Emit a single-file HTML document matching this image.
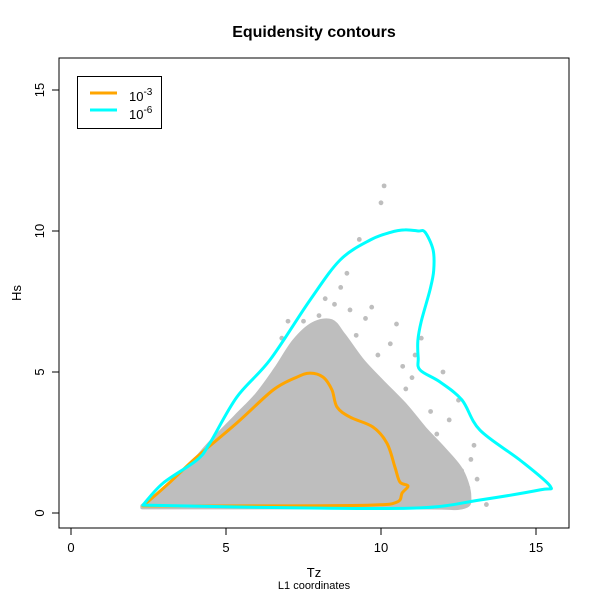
<!DOCTYPE html>
<html><head><meta charset="utf-8"><style>
body{margin:0;background:#fff}
text{font-family:"Liberation Sans",sans-serif}
</style></head><body>
<svg id="c" width="600" height="600" xmlns="http://www.w3.org/2000/svg">
<rect width="600" height="600" fill="#fff"/>
<text x="314" y="37" text-anchor="middle" font-size="16" font-weight="bold">Equidensity contours</text>
<text x="314" y="577" text-anchor="middle" font-size="13">Tz</text>
<text x="314" y="589" text-anchor="middle" font-size="11">L1 coordinates</text>
<text transform="translate(21,293) rotate(-90)" text-anchor="middle" font-size="13">Hs</text>
<g id="marks"></g>
<rect x="59" y="58" width="510" height="470" fill="none" stroke="#000"/>
<g id="axes"></g>
<g>
<rect x="77.5" y="76.5" width="84" height="52" fill="#fff" stroke="#000"/>
<line x1="90" y1="93" x2="117" y2="93" stroke="#FFA500" stroke-width="3"/>
<line x1="90" y1="110" x2="117" y2="110" stroke="#00FFFF" stroke-width="3"/>
<text x="129" y="101" font-size="13">10<tspan dy="-6" font-size="10">-3</tspan></text>
<text x="129" y="119" font-size="13">10<tspan dy="-6" font-size="10">-6</tspan></text>
</g>
</svg>
<script>
const xTicks=[0,5,10,15];
const yTicks=[0,5,10,15];
const cloudTz=[2.3,3.5,4.5,5.3,6.0,6.6,7.2,7.8,8.4,8.8,9.4,10.0,10.8,11.4,12.0,12.6,12.85,12.6,11.0,2.3];
const cloudHs=[0.25,1.3,2.5,3.4,4.2,5.1,6.1,6.7,6.8,6.3,5.4,4.7,3.8,3.0,2.3,1.5,0.6,0.2,0.2,0.2];
const outTz=[10.1,10.0,9.3,8.9,8.7,8.5,9.7,10.5,11.3,12.0,12.5,13.0,13.4,12.6,11.8,9.9,10.8,11.6,12.9,7.5,8.0,8.2,9.0,9.5,10.3,11.1,12.2,13.1,12.8,11.0,10.7,9.2,7.0,6.8];
const outHs=[11.6,11.0,9.7,8.5,8.0,7.4,7.3,6.7,6.2,5.0,4.0,2.4,0.3,1.5,2.8,5.6,4.4,3.6,1.9,6.8,7.0,7.6,7.2,6.9,6.0,5.6,3.3,1.2,0.9,4.8,5.2,6.3,6.8,6.2];
const orangeTz=[2.32,3.2,4.06,5.35,6.52,7.29,7.71,8.13,8.42,8.58,9.0,9.74,10.19,10.45,10.61,10.87,10.68,10.52,9.65,5.77,2.32];
const orangeHs=[0.25,1.1,1.99,3.19,4.36,4.82,4.96,4.82,4.36,3.76,3.40,3.05,2.48,1.63,1.10,0.96,0.71,0.39,0.28,0.25,0.25];
const cyanTz=[2.32,2.97,4.06,4.48,5.35,6.42,7.71,8.68,9.65,10.3,10.77,11.2,11.42,11.68,11.7,11.58,11.3,11.19,11.2,11.26,11.9,12.61,13.19,14.48,15.45,15.13,13.19,11.26,7.39,2.32];
const cyanHs=[0.28,1.06,1.88,2.48,4.11,5.43,7.55,8.97,9.68,9.95,10.04,10.0,9.96,9.33,8.6,7.91,6.8,6.13,5.5,5.07,4.65,4.01,2.94,1.88,0.96,0.82,0.46,0.18,0.18,0.28];
const X=v=>71+v*31, Y=v=>513-v*28.2;
const NS="http://www.w3.org/2000/svg";
const marks=document.getElementById('marks'), axes=document.getElementById('axes');
function mk(t,a,p){const e=document.createElementNS(NS,t);for(const k in a)e.setAttribute(k,a[k]);p.appendChild(e);return e;}
function smooth(xs,ys){
  const P=xs.map((v,i)=>[X(v),Y(ys[i])]);const n=P.length;
  let d='M'+P[0][0].toFixed(1)+','+P[0][1].toFixed(1);
  for(let i=0;i<n-1;i++){
    const p0=P[Math.max(i-1,0)],p1=P[i],p2=P[i+1],p3=P[Math.min(i+2,n-1)];
    const c1=[p1[0]+(p2[0]-p0[0])/6,p1[1]+(p2[1]-p0[1])/6];
    const c2=[p2[0]-(p3[0]-p1[0])/6,p2[1]-(p3[1]-p1[1])/6];
    d+=`C${c1[0].toFixed(1)},${c1[1].toFixed(1)} ${c2[0].toFixed(1)},${c2[1].toFixed(1)} ${p2[0].toFixed(1)},${p2[1].toFixed(1)}`;
  }
  return d+'Z';
}
let cl=mk('path',{d:smooth(cloudTz,cloudHs),fill:'#BEBEBE',stroke:'#BEBEBE','stroke-width':4,'stroke-linejoin':'round'},marks);


outTz.forEach((v,i)=>{const c=mk('circle',{cx:X(v),cy:Y(outHs[i]),r:2.4,fill:'#BEBEBE'},marks);

});
let o=mk('path',{d:smooth(orangeTz,orangeHs),fill:'none',stroke:'#FFA500','stroke-width':3,'stroke-linejoin':'round'},marks);


let cy=mk('path',{d:smooth(cyanTz,cyanHs),fill:'none',stroke:'#00FFFF','stroke-width':3,'stroke-linejoin':'round'},marks);


xTicks.forEach(v=>{mk('line',{x1:X(v),x2:X(v),y1:528,y2:535,stroke:'#000'},axes);
const t=mk('text',{x:X(v),y:552,'text-anchor':'middle','font-size':13},axes);t.textContent=v;

});
yTicks.forEach(v=>{mk('line',{x1:52,x2:59,y1:Y(v),y2:Y(v),stroke:'#000'},axes);
const t=mk('text',{transform:`translate(44,${Y(v)}) rotate(-90)`,'text-anchor':'middle','font-size':13},axes);t.textContent=v;

});
</script>
</body></html>
